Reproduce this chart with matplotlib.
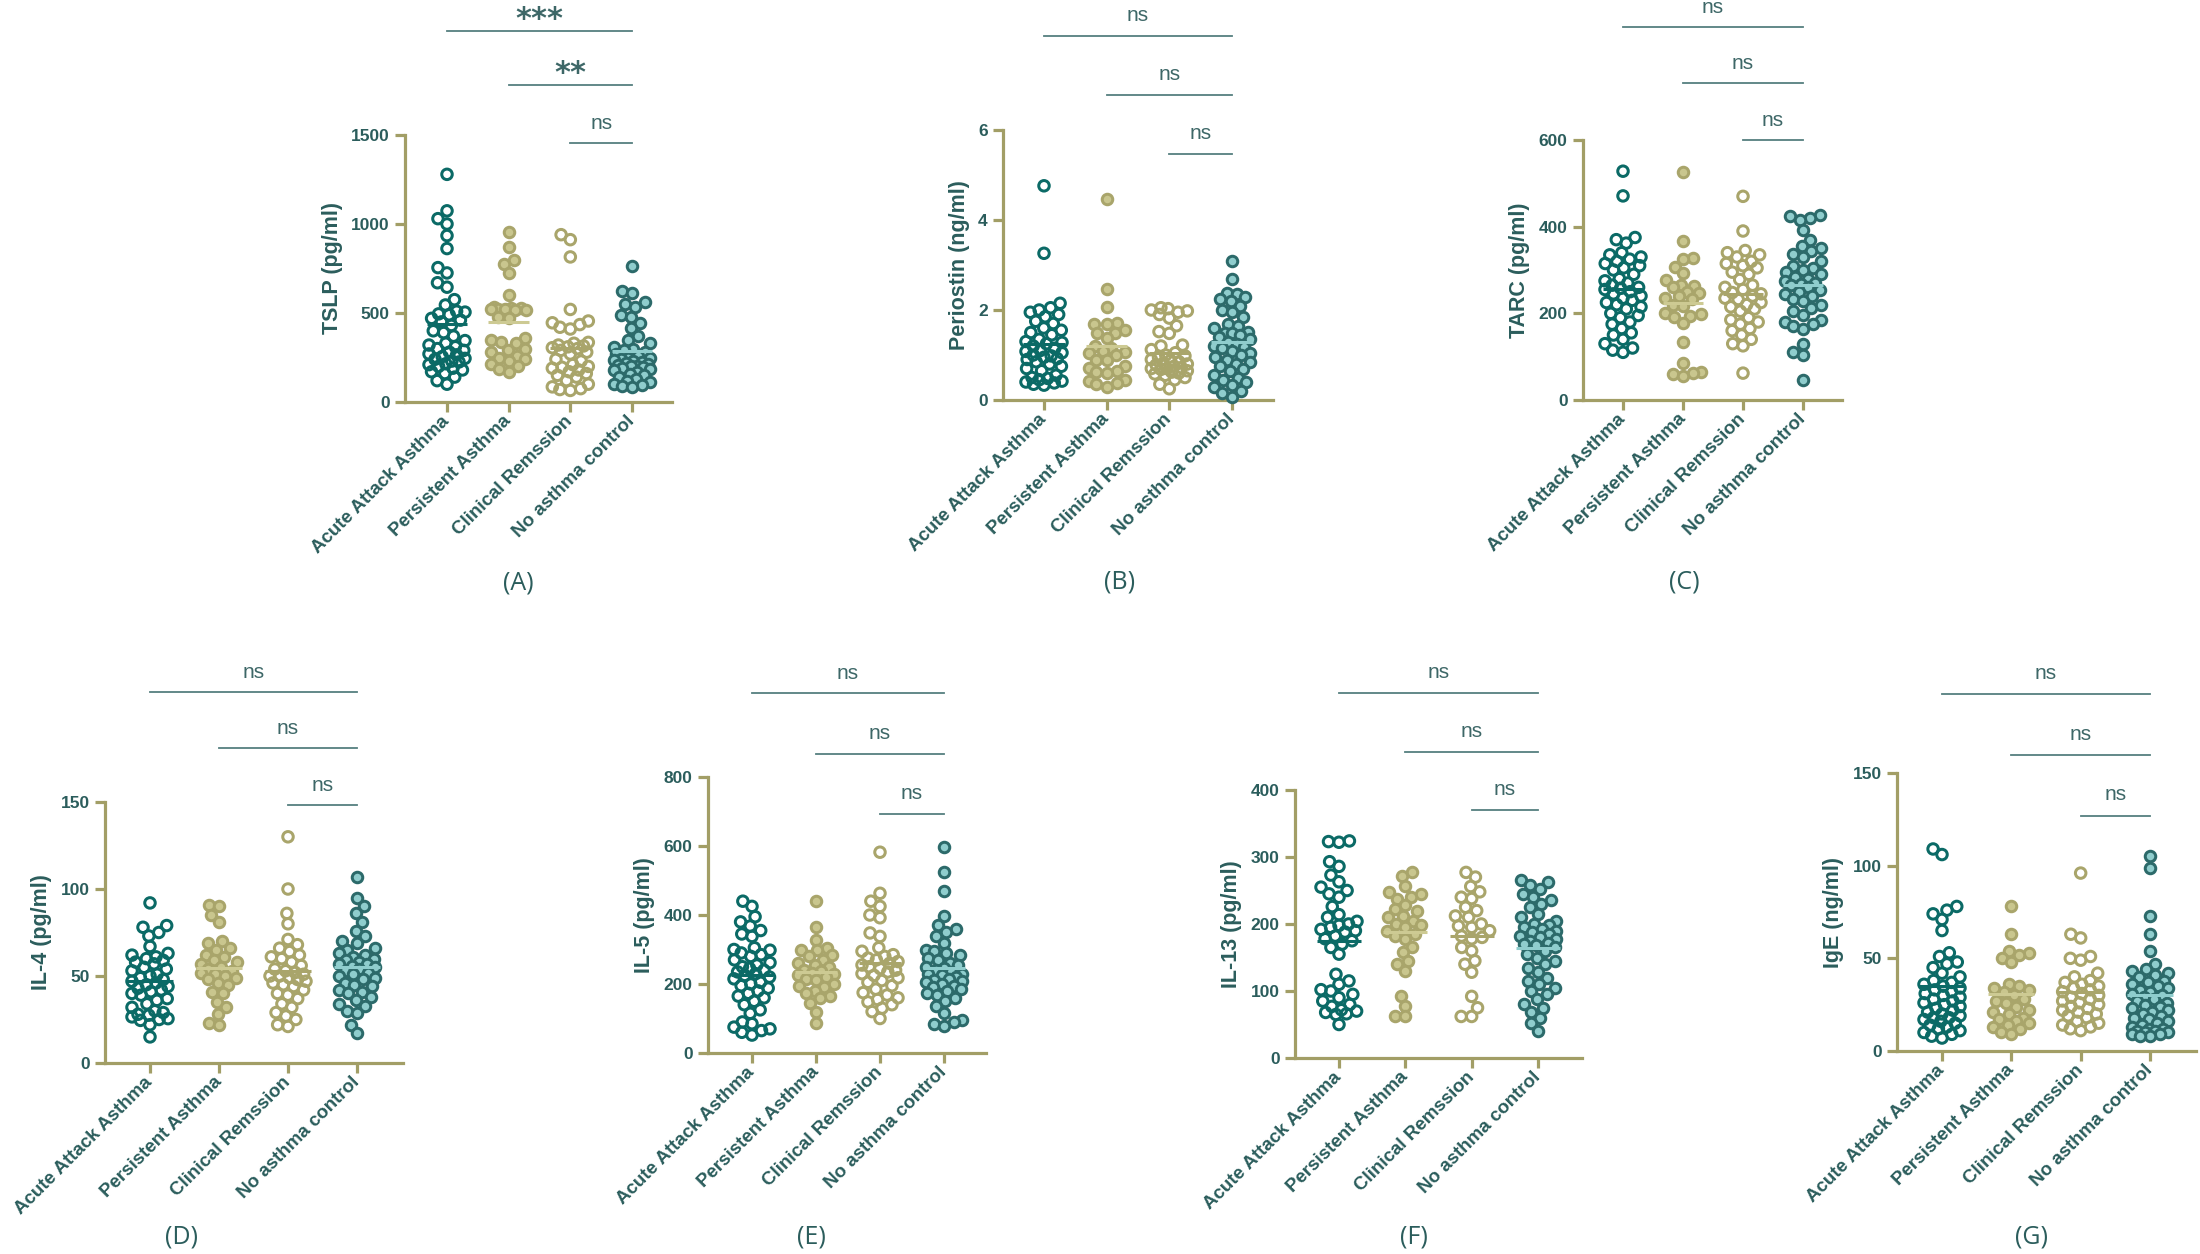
import numpy as np
import matplotlib
matplotlib.use("Agg")
import matplotlib.pyplot as plt
from matplotlib import transforms

plt.rcParams['font.family'] = ['Liberation Sans', 'DejaVu Sans']

# ---------------- data ----------------
categories = ['Acute Attack Asthma', 'Persistent Asthma', 'Clinical Remssion', 'No asthma control']

tslp_acute = [1279, 1074, 1030, 1000, 935, 862, 755, 725, 670, 645, 575, 545, 510, 505, 495, 490, 470, 460, 450, 430,
              400, 390, 370, 345, 330, 320, 310, 300, 290, 280, 270, 265, 255, 245, 240, 230, 225, 215, 210, 200,
              190, 180, 170, 160, 140, 120, 100]
tslp_persist = [956, 872, 800, 778, 725, 600, 535, 530, 528, 525, 522, 520, 518, 515, 480, 470, 360, 350, 335, 330,
                300, 290, 280, 260, 245, 240, 230, 215, 200, 185, 170]
tslp_remiss = [940, 912, 815, 520, 455, 445, 435, 420, 410, 335, 330, 320, 315, 310, 305, 300, 290, 280, 270, 240,
               230, 210, 200, 195, 190, 180, 170, 160, 150, 140, 120, 100, 85, 75, 70, 65]
tslp_control = [765, 625, 610, 560, 550, 535, 490, 480, 445, 415, 370, 350, 330, 310, 300, 290, 280, 270, 260, 250,
                245, 240, 235, 230, 225, 220, 215, 210, 205, 200, 195, 190, 185, 180, 170, 160, 150, 140, 130, 120,
                110, 100, 95, 90, 85]

peri_acute = [4.76, 3.26, 2.15, 2.05, 2.0, 1.95, 1.9, 1.85, 1.75, 1.7, 1.6, 1.55, 1.5, 1.45, 1.35, 1.3, 1.28, 1.25,
              1.2, 1.15, 1.1, 1.08, 1.05, 1.0, 0.98, 0.95, 0.92, 0.9, 0.85, 0.8, 0.75, 0.7, 0.65, 0.55, 0.5, 0.48,
              0.45, 0.42, 0.4, 0.38, 0.35, 0.33]
peri_persist = [4.47, 2.47, 2.07, 1.72, 1.70, 1.68, 1.55, 1.5, 1.48, 1.37, 1.2, 1.15, 1.1, 1.07, 1.05, 1.0, 0.9,
                0.88, 0.75, 0.72, 0.65, 0.62, 0.6, 0.45, 0.42, 0.38, 0.35, 0.3]
peri_remiss = [2.05, 2.03, 2.0, 1.98, 1.95, 1.9, 1.82, 1.65, 1.52, 1.48, 1.22, 1.2, 1.12, 1.05, 1.0, 0.98, 0.95, 0.9,
               0.88, 0.85, 0.82, 0.8, 0.78, 0.75, 0.72, 0.7, 0.7, 0.68, 0.65, 0.62, 0.6, 0.58, 0.55, 0.5, 0.45,
               0.35, 0.25]
peri_control = [3.1, 2.68, 2.38, 2.35, 2.3, 2.25, 2.2, 2.1, 2.0, 1.95, 1.85, 1.7, 1.65, 1.6, 1.52, 1.5, 1.48, 1.45,
                1.4, 1.35, 1.3, 1.25, 1.2, 1.18, 1.15, 1.1, 1.05, 1.0, 0.95, 0.9, 0.85, 0.8, 0.75, 0.7, 0.65, 0.55,
                0.5, 0.45, 0.4, 0.33, 0.28, 0.2, 0.15, 0.07]

tarc_acute = [528, 471, 375, 370, 362, 340, 335, 330, 325, 320, 315, 310, 305, 300, 290, 280, 275, 270, 265, 260,
              258, 255, 250, 245, 240, 235, 230, 225, 220, 215, 210, 200, 195, 190, 180, 175, 165, 155, 150, 140,
              130, 120, 115, 110]
tarc_persist = [527, 368, 328, 325, 308, 292, 278, 265, 262, 260, 250, 248, 240, 235, 232, 220, 218, 200, 198, 195,
                192, 178, 135, 85, 65, 62, 60, 55]
tarc_remiss = [470, 390, 345, 340, 335, 330, 320, 315, 310, 305, 295, 290, 278, 265, 260, 255, 248, 245, 240, 235,
               232, 225, 220, 215, 210, 205, 190, 185, 180, 175, 165, 160, 150, 140, 130, 125, 62]
tarc_control = [428, 425, 420, 415, 392, 370, 355, 350, 345, 338, 330, 320, 310, 305, 300, 295, 290, 285, 280, 275,
                270, 268, 265, 260, 255, 250, 245, 240, 232, 228, 220, 212, 205, 196, 185, 180, 175, 170, 165, 130,
                110, 105, 46]

il4_acute = [92, 79, 78, 75, 73, 67, 63, 62, 61, 60, 59, 58, 57, 55, 54, 53, 51, 50, 49, 48, 47, 46, 45, 44, 43, 42,
             41, 40, 39, 37, 36, 34, 32, 30, 29, 28, 27.5, 26.5, 25.5, 25, 24.5, 22, 15]
il4_persist = [91, 90, 85, 81, 70, 69, 66, 65, 62, 61, 59, 58, 57, 55, 54, 53, 52, 51, 50, 49, 48, 46, 45, 41, 40,
               35, 32, 28, 23, 22]
il4_remiss = [130, 100, 86, 80, 71, 68, 66, 64, 62, 61, 60, 58, 56, 54, 53, 52, 51, 50, 50, 49, 48, 47, 46, 45, 44,
              42, 40, 39, 37, 34, 32, 29, 27, 25, 22, 21]
il4_control = [107, 95, 90, 86, 81, 76, 73, 70, 69, 66, 65, 63, 62, 61, 60, 59, 58, 57, 57, 56, 55, 54, 53, 52, 51,
               50, 49, 48, 46, 45, 44, 42, 41, 40, 38, 36, 34, 33, 30, 29, 22, 17]

il5_acute = [440, 425, 395, 380, 368, 355, 345, 338, 305, 300, 298, 290, 285, 280, 270, 262, 255, 250, 245, 240,
             235, 230, 225, 220, 215, 205, 200, 195, 188, 180, 173, 165, 160, 150, 140, 125, 115, 90, 85, 75, 70,
             65, 60, 52]
il5_persist = [440, 365, 328, 305, 300, 298, 285, 280, 270, 262, 255, 250, 242, 238, 232, 230, 225, 220, 215, 212,
               200, 195, 190, 180, 173, 165, 158, 145, 120, 87]
il5_remiss = [582, 463, 440, 425, 400, 392, 348, 338, 305, 295, 285, 280, 275, 270, 265, 260, 255, 250, 245, 240,
              235, 230, 225, 218, 210, 205, 195, 185, 175, 168, 160, 155, 148, 140, 130, 120, 100]
il5_control = [598, 525, 470, 398, 372, 360, 352, 340, 320, 300, 295, 290, 285, 275, 270, 262, 255, 250, 245, 240,
               235, 230, 228, 225, 220, 215, 212, 210, 205, 200, 195, 190, 185, 180, 175, 168, 160, 150, 135, 115,
               95, 90, 85, 78]

il13_acute = [324, 323, 322, 293, 286, 273, 263, 255, 250, 245, 240, 226, 214, 210, 204, 200, 198, 195, 192, 190,
              188, 182, 178, 175, 170, 165, 155, 125, 115, 110, 102, 100, 95, 90, 85, 80, 77, 72, 70, 68, 66, 65, 50]
il13_persist = [277, 271, 256, 248, 245, 241, 238, 228, 222, 219, 212, 210, 205, 200, 198, 195, 190, 185, 182, 178,
                165, 158, 145, 140, 130, 92, 78, 63, 62]
il13_remiss = [277, 270, 256, 248, 240, 238, 225, 220, 212, 210, 200, 197, 195, 190, 182, 180, 178, 165, 160, 145,
               140, 128, 92, 75, 62, 62]
il13_control = [266, 262, 258, 252, 245, 240, 236, 230, 225, 215, 210, 205, 200, 198, 195, 192, 190, 188, 185, 182,
                180, 178, 175, 172, 170, 168, 165, 160, 155, 150, 145, 140, 135, 128, 120, 115, 110, 105, 100, 95,
                88, 80, 75, 68, 60, 52, 40]

ige_acute = [109, 106, 78, 76, 74, 71, 65, 53, 51, 48, 47, 45, 42, 40, 38, 37, 36, 35, 34, 33, 32, 31, 30, 29, 28,
             27, 26, 25, 24, 23, 22, 21, 20, 19, 18, 18, 17, 16, 15, 14, 13, 12, 11, 10, 9, 8, 7]
ige_persist = [78, 63, 54, 53, 52, 50, 48, 36, 35, 34, 33, 32, 30, 28, 27, 26, 24, 22, 21, 20, 18, 17, 16, 15, 14,
               13, 12, 10, 9]
ige_remiss = [96, 63, 61, 51, 50, 49, 42, 40, 38, 37, 36, 35, 34, 33, 32, 31, 30, 29, 28, 27, 26, 25, 24, 23, 22,
              21, 20, 19, 18, 16, 15, 14, 13, 12, 11]
ige_control = [105, 99, 73, 63, 54, 47, 44, 43, 42, 41, 40, 38, 37, 36, 35, 34, 33, 32, 31, 30, 29, 28, 27, 26, 25,
               24, 23, 22, 21, 20, 19, 18, 17, 16, 15, 14, 13, 12, 12, 11, 11, 10, 10, 9, 9, 8, 8]

y_labels = ['TSLP (pg/ml)', 'Periostin (ng/ml)', 'TARC (pg/ml)', 'IL-4 (pg/ml)', 'IL-5 (pg/ml)',
            'IL-13 (pg/ml)', 'IgE (ng/ml)']
y_ticks = [[0, 500, 1000, 1500], [0, 2, 4, 6], [0, 200, 400, 600], [0, 50, 100, 150],
           [0, 200, 400, 600, 800], [0, 100, 200, 300, 400], [0, 50, 100, 150]]
sig_labels = [['***', '**', 'ns'], ['ns', 'ns', 'ns'], ['ns', 'ns', 'ns'], ['ns', 'ns', 'ns'],
              ['ns', 'ns', 'ns'], ['ns', 'ns', 'ns'], ['ns', 'ns', 'ns']]
panel_letters = ['(A)', '(B)', '(C)', '(D)', '(E)', '(F)', '(G)']

panel_data = [
    [tslp_acute, tslp_persist, tslp_remiss, tslp_control],
    [peri_acute, peri_persist, peri_remiss, peri_control],
    [tarc_acute, tarc_persist, tarc_remiss, tarc_control],
    [il4_acute, il4_persist, il4_remiss, il4_control],
    [il5_acute, il5_persist, il5_remiss, il5_control],
    [il13_acute, il13_persist, il13_remiss, il13_control],
    [ige_acute, ige_persist, ige_remiss, ige_control],
]

# ---------------- layout (figure pixels, y from top) ----------------
W, H = 2200, 1254
# left spine x, right end x, first tick x, last tick x, top (ymax) y, bottom (0) y
frames = [
    (405, 672, 447, 632, 135, 402),
    (1003, 1273, 1044, 1232, 130, 400),
    (1583, 1842, 1623, 1803, 140, 400),
    (105, 403, 150, 357, 802, 1063),
    (708, 986, 752, 944, 777, 1053),
    (1295, 1582, 1339, 1538, 790, 1058),
    (1897, 2196, 1942, 2150, 773, 1051),
]
bar_y = [(31, 85, 143), (36, 95, 154), (27, 83, 140), (692, 748, 805), (693, 754, 814), (693, 752, 810),
         (694, 755, 816)]
txt_y = [(13, 67, 123), (15, 74, 133), (7, 63, 120), (672, 728, 785), (673, 733, 793), (672, 731, 789),
         (673, 734, 794)]
letter_pos = [(518, 583), (1120, 582), (1684, 582), (182, 1237), (811, 1237), (1414, 1237), (2032, 1237)]

AX_COL = '#a29e66'
TXT_COL = '#2b5d5c'
SIG_COL = '#3d6767'
BAR_COL = '#557f7f'
face_cols = ['none', '#c9c68e', 'none', '#8fcdcd']
edge_cols = ['#0b6a66', '#a9a56b', '#a9a56b', '#2c6a6a']
mean_cols = ['#0b6a66', '#cdca93', '#a9a56b', '#8fcdcd']

DIAM = 13.5       # marker outer diameter in px
EDGE_PX = 3.0     # marker edge width in px
MIN_D = 10.5      # allowed centre distance in px (slight overlap)
MAX_OFF = 18.0    # max horizontal spread in px


def swarm_offsets(y_px, d, max_off):
    n = len(y_px)
    order = np.argsort(y_px, kind='stable')
    xs = np.zeros(n)
    placed = []
    for i in order:
        yi = y_px[i]
        neigh = [j for j in placed if abs(y_px[j] - yi) < d]
        cands = [0.0]
        for j in neigh:
            dx = np.sqrt(max(d * d - (y_px[j] - yi) ** 2, 0.0))
            cands += [xs[j] + dx, xs[j] - dx]
        cands = sorted(cands, key=lambda c: (abs(c), c))
        chosen = None
        for c in cands:
            if abs(c) > max_off + 1e-9:
                continue
            if all((c - xs[j]) ** 2 + (y_px[j] - yi) ** 2 >= d * d - 1e-6 for j in neigh):
                chosen = c
                break
        if chosen is None:
            grid = np.linspace(-max_off, max_off, 31)
            chosen = max(grid, key=lambda c: min((c - xs[j]) ** 2 + (y_px[j] - yi) ** 2 for j in neigh))
        xs[i] = chosen
        placed.append(i)
    return xs


fig = plt.figure(figsize=(W / 100, H / 100), dpi=100)
fig.patch.set_facecolor('white')

ms_pt = (DIAM - EDGE_PX) * 0.72
lw_pt = EDGE_PX * 0.72
for p, (groups, frame) in enumerate(zip(panel_data, frames)):
    L, R, t0, t3, top, bot = frame
    ax = fig.add_axes([L / W, 1 - bot / H, (R - L) / W, (bot - top) / H])
    spacing = (t3 - t0) / 3.0
    ax.set_xlim((L - t0) / spacing, 3 + (R - t3) / spacing)
    ymax = y_ticks[p][-1]
    ax.set_ylim(0, ymax)
    px_per_unit = (bot - top) / ymax

    for g, vals in enumerate(groups):
        v = np.asarray(vals, dtype=float)
        offs = swarm_offsets(v * px_per_unit, MIN_D, MAX_OFF) / spacing
        ax.scatter(g + offs, v, s=ms_pt ** 2, facecolors=face_cols[g], edgecolors=edge_cols[g],
                   linewidths=lw_pt, zorder=3, clip_on=False)
        m = v.mean()
        ax.plot([g - 0.33, g + 0.33], [m, m], color=mean_cols[g], lw=2.2, zorder=4,
                solid_capstyle='butt', clip_on=False)

    for side in ['top', 'right']:
        ax.spines[side].set_visible(False)
    for side in ['left', 'bottom']:
        ax.spines[side].set_color(AX_COL)
        ax.spines[side].set_linewidth(2.3)
    ax.set_xticks(range(4))
    ax.set_xticklabels(categories, rotation=45, ha='right', va='center', rotation_mode='anchor',
                       fontsize=13.5, fontweight='bold', color=TXT_COL)
    ax.set_yticks(y_ticks[p])
    ax.set_yticklabels([str(t) for t in y_ticks[p]], fontsize=12.5, fontweight='bold', color=TXT_COL)
    ax.tick_params(axis='both', which='major', direction='out', length=7, width=2.3, color=AX_COL)
    ax.tick_params(axis='y', pad=4)
    ax.tick_params(axis='x', pad=5)
    ax.set_ylabel(y_labels[p], fontsize=15.5, fontweight='bold', color=TXT_COL, labelpad=6)
    ax.patch.set_alpha(0)

    # significance bars: x in data, y in figure pixels
    trans = transforms.blended_transform_factory(ax.transData, fig.transFigure)
    for k in range(3):
        yb = 1 - bar_y[p][k] / H
        ax.plot([k, 3], [yb, yb], color=BAR_COL, lw=1.3, transform=trans, clip_on=False)
        lab = sig_labels[p][k]
        yt = txt_y[p][k]
        if '*' in lab:
            ax.text((k + 3) / 2, 1 - (yt + 15) / H, lab, transform=trans, ha='center', va='baseline',
                    fontsize=22, fontweight='bold', color=SIG_COL, family='DejaVu Sans')
        else:
            ax.text((k + 3) / 2, 1 - (yt + 6) / H, lab, transform=trans, ha='center', va='baseline',
                    fontsize=15, color=SIG_COL)

    lx, ly = letter_pos[p]
    fig.text(lx / W, 1 - ly / H, panel_letters[p], ha='center', va='center', fontsize=18,
             color=TXT_COL, family=['Open Sans', 'DejaVu Sans'])

fig.savefig('out.png', dpi=100, facecolor='white')
